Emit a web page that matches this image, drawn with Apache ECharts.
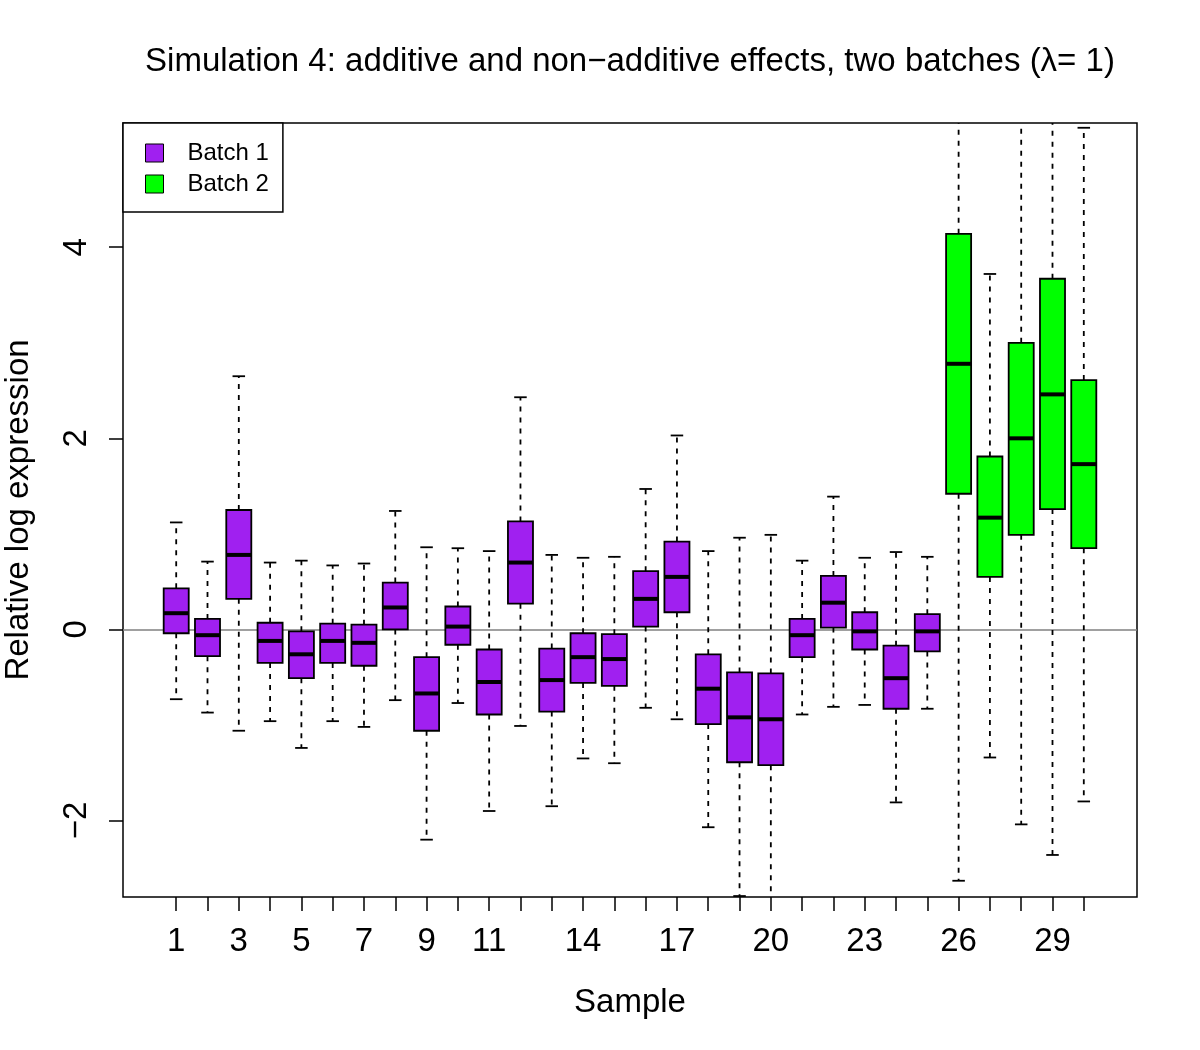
<!DOCTYPE html>
<html>
<head>
<meta charset="utf-8">
<title>Simulation 4</title>
<script src="https://cdn.jsdelivr.net/npm/echarts@6.0.0/dist/echarts.min.js"></script>
<style>
  html, body { margin: 0; padding: 0; background: #fff; }
  #main { width: 1200px; height: 1050px; }
</style>
</head>
<body>
<div id="main"></div>
<script>
// sample numbers and which batch each one is in
var samples = [1, 2, 3, 4, 5, 6, 7, 8, 9, 10, 11, 12, 13, 14, 15, 16, 17, 18, 19, 20, 21, 22, 23, 24, 25, 26, 27, 28, 29, 30];
var batch = [1, 1, 1, 1, 1, 1, 1, 1, 1, 1, 1, 1, 1, 1, 1, 1, 1, 1, 1, 1, 1, 1, 1, 1, 1, 2, 2, 2, 2, 2];

// boxplot stats
var whiskerLow = [-0.73, -0.87, -1.06, -0.96, -1.24, -0.96, -1.02, -0.74, -2.20, -0.77, -1.90, -1.01, -1.85, -1.35, -1.40,
                  -0.82, -0.94, -2.07, -2.79, -3.00, -0.89, -0.81, -0.79, -1.81, -0.83, -2.63, -1.34, -2.04, -2.36, -1.80];
var q1 = [-0.04, -0.28, 0.32, -0.35, -0.51, -0.35, -0.38, 0.00, -1.06, -0.16, -0.89, 0.27, -0.86, -0.56, -0.59,
          0.03, 0.18, -0.99, -1.39, -1.42, -0.29, 0.02, -0.21, -0.83, -0.23, 1.42, 0.55, 0.99, 1.26, 0.85];
var median = [0.17, -0.06, 0.78, -0.12, -0.26, -0.12, -0.14, 0.23, -0.67, 0.03, -0.55, 0.70, -0.53, -0.29, -0.31,
              0.32, 0.55, -0.62, -0.92, -0.94, -0.06, 0.28, -0.02, -0.51, -0.02, 2.78, 1.17, 2.00, 2.46, 1.73];
var q3 = [0.43, 0.11, 1.25, 0.07, -0.02, 0.06, 0.05, 0.49, -0.29, 0.24, -0.21, 1.13, -0.20, -0.04, -0.05,
          0.61, 0.92, -0.26, -0.45, -0.46, 0.11, 0.56, 0.18, -0.17, 0.16, 4.14, 1.81, 3.00, 3.67, 2.61];
var whiskerHigh = [1.12, 0.71, 2.65, 0.70, 0.72, 0.67, 0.69, 1.24, 0.86, 0.85, 0.82, 2.43, 0.78, 0.75, 0.76,
                   1.47, 2.03, 0.82, 0.96, 0.99, 0.72, 1.39, 0.75, 0.81, 0.76, 5.70, 3.72, 5.50, 5.60, 5.25];

var xTickLabels = [1, 3, 5, 7, 9, 11, 14, 17, 20, 23, 26, 29];
var yTicks = [-2, 0, 2, 4];

var batchNames = ['Batch 1', 'Batch 2'];
var batchColors = ['#A020F0', '#00FF00'];

var fontFamily = '"Liberation Sans", Arial, Helvetica, sans-serif';

function batchData(b) {
	var out = [];
	for (var i = 0; i < samples.length; i++) {
		if (batch[i] == b) {
			out.push([samples[i], whiskerLow[i], q1[i], median[i], q3[i], whiskerHigh[i]]);
		}
	}
	return out;
}

// R style box: dashed whiskers, solid staples, thick median
function renderBox(params, api) {
	var x = api.value(0);
	var pLow = api.coord([x, api.value(1)]);
	var pQ1 = api.coord([x, api.value(2)]);
	var pMed = api.coord([x, api.value(3)]);
	var pQ3 = api.coord([x, api.value(4)]);
	var pHigh = api.coord([x, api.value(5)]);
	var boxW = api.size([0.8, 0])[0];
	var capW = api.size([0.4, 0])[0];
	var cx = pMed[0];
	var lineStyle = { stroke: '#000', lineWidth: 1.8 };
	var dashStyle = { stroke: '#000', lineWidth: 1.8, lineDash: [5, 6] };
	return {
		type: 'group',
		children: [
			{ type: 'line', shape: { x1: cx, y1: pQ3[1], x2: cx, y2: pHigh[1] }, style: dashStyle },
			{ type: 'line', shape: { x1: cx, y1: pQ1[1], x2: cx, y2: pLow[1] }, style: dashStyle },
			{ type: 'line', shape: { x1: cx - capW / 2, y1: pHigh[1], x2: cx + capW / 2, y2: pHigh[1] }, style: lineStyle },
			{ type: 'line', shape: { x1: cx - capW / 2, y1: pLow[1], x2: cx + capW / 2, y2: pLow[1] }, style: lineStyle },
			{
				type: 'rect',
				shape: { x: cx - boxW / 2, y: pQ3[1], width: boxW, height: pQ1[1] - pQ3[1] },
				style: { fill: api.visual('color'), stroke: '#000', lineWidth: 1.8 }
			},
			{ type: 'line', shape: { x1: cx - boxW / 2, y1: pMed[1], x2: cx + boxW / 2, y2: pMed[1] }, style: { stroke: '#000', lineWidth: 4 } }
		]
	};
}

var myChart = echarts.init(document.getElementById('main'));

var series = [];
for (var b = 0; b < batchNames.length; b++) {
	var s = {
		name: batchNames[b],
		type: 'custom',
		renderItem: renderBox,
		clip: true,
		z: 3,
		itemStyle: { color: batchColors[b] },
		encode: { x: 0, y: [1, 2, 3, 4, 5] },
		data: batchData(b + 1)
	};
	if (b == 0) {
		// grey reference line at 0
		s.markLine = {
			silent: true,
			symbol: 'none',
			z: 1,
			label: { show: false },
			lineStyle: { color: '#808080', type: 'solid', width: 1.5 },
			data: [{ yAxis: 0 }]
		};
	}
	series.push(s);
}

var option = {
	animation: false,
	textStyle: { fontFamily: fontFamily, color: '#000' },
	title: {
		text: 'Simulation 4: additive and non\u2212additive effects, two batches (\u03bb= 1)',
		left: 630,
		textAlign: 'center',
		top: 45,
		padding: 0,
		textStyle: { fontFamily: fontFamily, fontSize: 33, fontWeight: 'normal', color: '#000' }
	},
	legend: {
		orient: 'vertical',
		left: 123,
		top: 123,
		padding: [18, 14, 16, 22],
		itemWidth: 18,
		itemHeight: 18,
		itemGap: 7,
		selectedMode: false,
		backgroundColor: '#fff',
		borderColor: '#000',
		borderWidth: 1.5,
		borderRadius: 0,
		itemStyle: { borderColor: '#000', borderWidth: 1 },
		textStyle: { fontFamily: fontFamily, fontSize: 24, lineHeight: 24, color: '#000', padding: [0, 0, 0, 19] },
		data: [
			{ name: 'Batch 1', icon: 'rect' },
			{ name: 'Batch 2', icon: 'rect' }
		]
	},
	grid: {
		left: 123,
		right: 63,
		top: 123,
		bottom: 153,
		containLabel: false,
		outerBoundsMode: 'none',
		show: true,
		borderColor: '#000',
		borderWidth: 1.5,
		backgroundColor: 'transparent'
	},
	xAxis: {
		type: 'value',
		min: -0.7,
		max: 31.7,
		name: 'Sample',
		nameLocation: 'middle',
		nameGap: 89,
		nameTextStyle: { fontFamily: fontFamily, fontSize: 33, color: '#000' },
		axisLine: { show: false, onZero: false },
		axisTick: { show: true, length: 14, customValues: samples, lineStyle: { color: '#000', width: 1.5 } },
		axisLabel: { customValues: xTickLabels, fontSize: 33, margin: 28, color: '#000', fontFamily: fontFamily },
		splitLine: { show: false }
	},
	yAxis: {
		type: 'value',
		min: -2.8,
		max: 5.3,
		name: 'Relative log expression',
		nameLocation: 'middle',
		nameGap: 88,
		nameTextStyle: { fontFamily: fontFamily, fontSize: 33, color: '#000' },
		axisLine: { show: false, onZero: false },
		axisTick: { show: true, length: 14, customValues: yTicks, lineStyle: { color: '#000', width: 1.5 } },
		axisLabel: {
			customValues: yTicks,
			rotate: 90,
			fontSize: 33,
			margin: 30,
			color: '#000',
			fontFamily: fontFamily,
			formatter: function (v) { return String(v).replace('-', '\u2212'); }
		},
		splitLine: { show: false }
	},
	series: series
};

myChart.setOption(option);
</script>
</body>
</html>
